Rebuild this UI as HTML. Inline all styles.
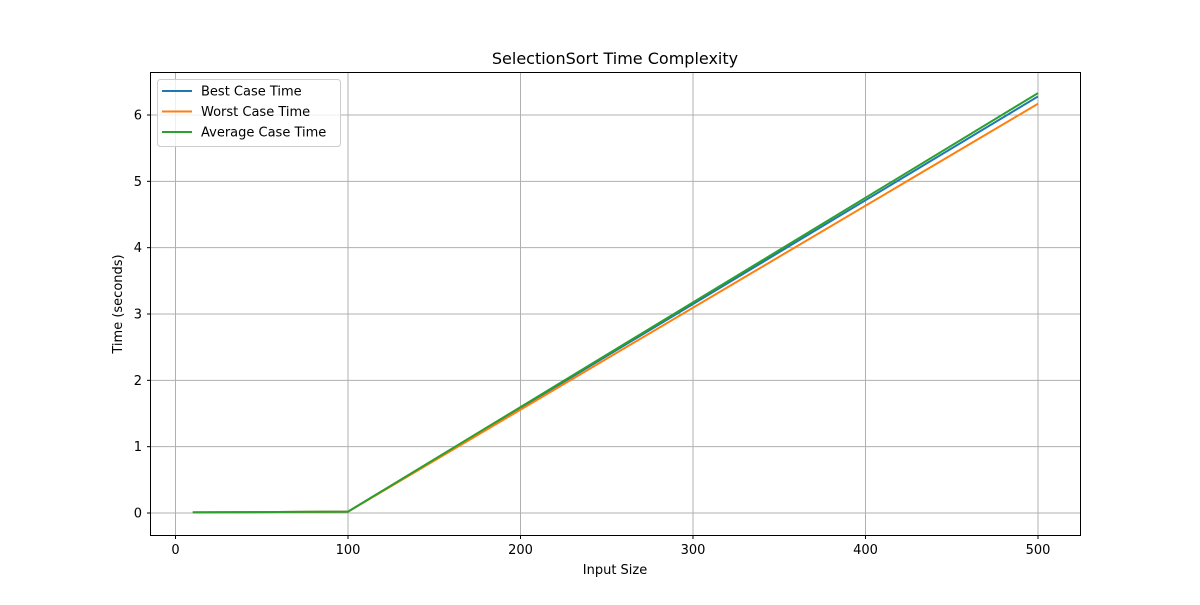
<!DOCTYPE html>
<html><head><meta charset="utf-8"><style>
body{margin:0;background:#fff;font-family:"Liberation Sans","DejaVu Sans",sans-serif;}
svg text{font-family:"DejaVu Sans","Liberation Sans",sans-serif;}
</style></head><body>
<svg id="chart" width="1200" height="600" xmlns="http://www.w3.org/2000/svg">
<rect width="1200" height="600" fill="#fff"/>
<g id="grid"></g>
<g id="lines"></g>
<rect x="150.5" y="72.5" width="930" height="463" fill="none" stroke="#000" stroke-width="1"/>
<g id="ticks"></g>
<text x="615" y="64" font-size="16" text-anchor="middle">SelectionSort Time Complexity</text>
<text x="615" y="574" font-size="13" text-anchor="middle">Input Size</text>
<text transform="translate(122,304) rotate(-90)" font-size="13" text-anchor="middle">Time (seconds)</text>
<g id="legend">
<rect x="157.5" y="79.5" width="183" height="67" fill="#fff" fill-opacity="0.8" stroke="#ccc" rx="3"/>
</g>
</svg>
<script>
const sizes=[10,100,500];
const bestTimes=[0.01,0.02,6.28];
const worstTimes=[0.01,0.02,6.17];
const avgTimes=[0.01,0.02,6.33];
const seriesNames=["Best Case Time","Worst Case Time","Average Case Time"];
const xTicks=[0,100,200,300,400,500];
const yTicks=[0,1,2,3,4,5,6];
const colors=["#1f77b4","#ff7f0e","#2ca02c"];
const NS="http://www.w3.org/2000/svg";
const sx=v=>175.5+v*(1038-175.5)/500;
const sy=v=>513-v*(513-115)/6;
function mk(t,a,p){const e=document.createElementNS(NS,t);for(const k in a)e.setAttribute(k,a[k]);p.appendChild(e);return e;}
const grid=document.getElementById('grid'),ticks=document.getElementById('ticks'),lines=document.getElementById('lines'),leg=document.getElementById('legend');
xTicks.forEach(v=>{const x=sx(v);
const g=mk('line',{x1:x,x2:x,y1:72.5,y2:535.5,stroke:'#b0b0b0','stroke-width':1},grid);

mk('line',{x1:x,x2:x,y1:535.5,y2:539,stroke:'#000'},ticks);
const t=mk('text',{x:x,y:554,'font-size':13,'text-anchor':'middle'},ticks);t.textContent=v;
});
yTicks.forEach(v=>{const y=sy(v);
const g=mk('line',{x1:150.5,x2:1080.5,y1:y,y2:y,stroke:'#b0b0b0','stroke-width':1},grid);

mk('line',{x1:147,x2:150.5,y1:y,y2:y,stroke:'#000'},ticks);
const t=mk('text',{x:142,y:y+4.5,'font-size':13,'text-anchor':'end'},ticks);t.textContent=v;
});
[bestTimes,worstTimes,avgTimes].forEach((s,i)=>{
const p=mk('polyline',{points:s.map((v,j)=>sx(sizes[j])+','+sy(v)).join(' '),fill:'none',stroke:colors[i],'stroke-width':2},lines);

const y=91+i*20.5;
mk('line',{x1:162,x2:192,y1:y,y2:y,stroke:colors[i],'stroke-width':2},leg);
const t=mk('text',{x:201,y:y+4.5,'font-size':13},leg);t.textContent=seriesNames[i];
});
</script>
</body></html>
